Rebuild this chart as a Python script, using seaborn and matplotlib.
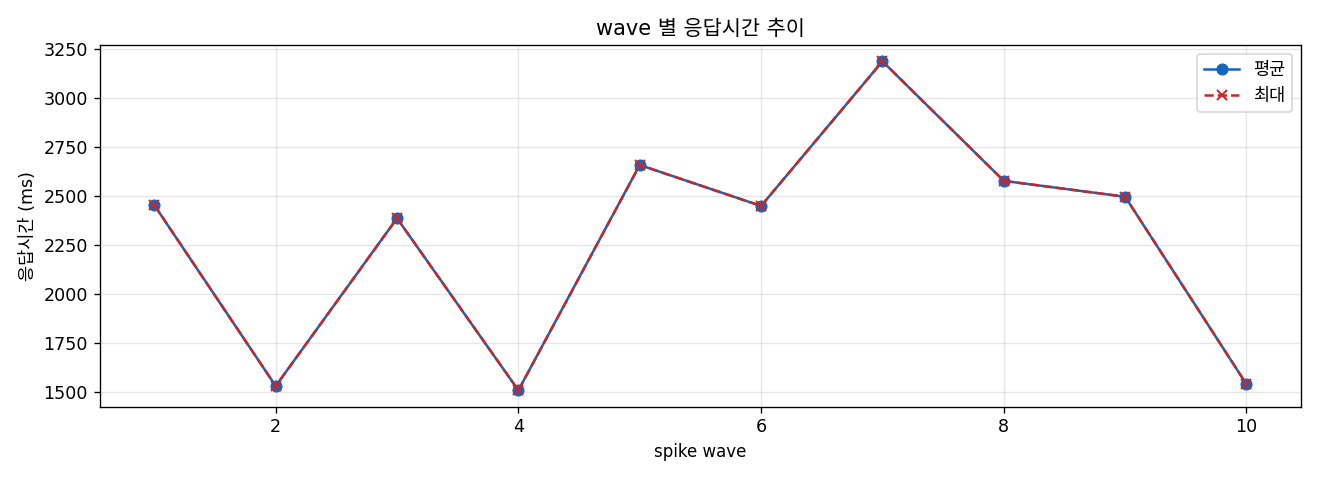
import pandas as pd
import matplotlib.pyplot as plt
import seaborn as sns

# wave별 응답시간 (ms)
waves = [1, 2, 3, 4, 5, 6, 7, 8, 9, 10]
avg_ms = [2452, 1529, 2385, 1507, 2657, 2448, 3186, 2576, 2495, 1538]
max_ms = [2452, 1529, 2385, 1507, 2657, 2448, 3186, 2576, 2495, 1538]

plt.rcParams['font.family'] = ['DejaVu Sans', 'Noto Sans CJK KR']
plt.rcParams['font.size'] = 10.5
plt.rcParams['axes.unicode_minus'] = False

df = pd.DataFrame({'wave': waves, 'avg': avg_ms, 'max': max_ms})

blue = '#1565C0'
red = '#C62828'

fig, ax = plt.subplots(figsize=(11, 4), dpi=120)
sns.lineplot(data=df, x='wave', y='avg', ax=ax, color=blue, marker='o',
             markersize=6.5, markeredgecolor=blue, markerfacecolor=blue,
             linewidth=1.5, label='평균')
sns.lineplot(data=df, x='wave', y='max', ax=ax, color=red, marker='x',
             markersize=6.5, markeredgecolor=red, markeredgewidth=1.2,
             dashes=False, linestyle='--', linewidth=1.5, label='최대')

ax.set_title('wave 별 응답시간 추이', fontsize=12.5)
ax.set_xlabel('spike wave', fontsize=10)
ax.set_ylabel('응답시간 (ms)', fontsize=10.5)
ax.grid(True, alpha=0.3)
ax.legend(loc='upper right', fontsize=10.5)

plt.tight_layout()
plt.savefig('out.png')
plt.close()
